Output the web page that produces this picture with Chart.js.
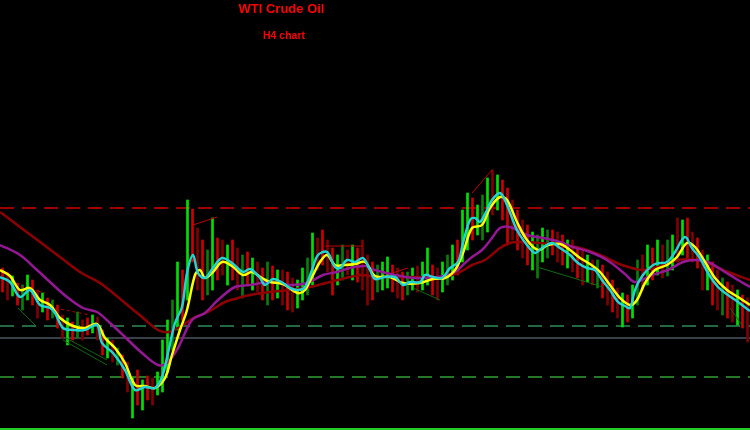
<!DOCTYPE html>
<html>
<head>
<meta charset="utf-8">
<script src="https://cdn.jsdelivr.net/npm/chart.js@4.4.1/dist/chart.umd.min.js"></script>
<style>
  html, body { margin: 0; padding: 0; background: #000; }
  canvas { display: block; }
</style>
</head>
<body>
<canvas id="chart" width="750" height="430"></canvas>
<script>
// candle highs / lows (price level, one per H4 bar)
const highs = [
  162,158,154,147,145,155,150,140,137,132,
  130,125,115,112,108,118,110,112,115,113,
  100,92,90,82,75,68,52,60,50,54,
  52,58,90,110,130,168,160,230,221,202,
  190,180,212,192,190,185,190,182,175,178,
  172,168,162,168,164,160,160,158,152,150,
  162,172,197,192,200,190,182,175,185,180,
  185,182,190,175,168,165,168,173,165,162,
  158,158,162,164,168,182,165,162,168,175,
  185,190,220,237,232,225,235,252,260,255,
  250,242,230,220,210,205,198,195,202,200,
  200,198,195,190,190,182,180,175,170,170,
  165,158,150,142,137,135,145,170,175,185,
  182,190,185,190,195,212,210,212,198,192,
  180,175,168,160,152,148,145,140,135,132
];
const lows = [
  138,130,134,125,120,130,125,112,118,110,
  112,102,92,85,90,92,90,95,97,90,
  75,72,68,65,52,38,12,25,20,30,
  25,35,38,58,80,100,110,130,168,140,
  130,135,140,150,155,145,150,140,132,145,
  140,138,130,125,130,132,125,120,118,122,
  130,135,145,160,165,158,135,145,150,155,
  150,148,140,125,130,138,140,142,138,132,
  130,135,140,138,140,145,135,130,138,145,
  150,155,168,180,190,195,190,198,215,220,
  210,185,190,180,172,165,160,152,168,172,
  175,168,165,162,158,152,145,148,145,142,
  132,125,118,112,103,108,112,125,140,145,
  150,155,152,154,160,168,175,170,168,162,
  140,140,125,120,115,112,108,105,102,88
];
// G = up bar, g = up (dim), R = down bar, r = down (dim)
const barDirs = (
  "RrGRgGRrGR" + "gRrGRgrRGr" + "RGrgRrGRGR" + "rGGGgGRGRr" + "RgGRrGRrgR" +
  "GrRgRGrRrG" + "GgGrRrRGgr" + "GRrrRgGGRr" + "RgGrGGRrGg" + "GRGGRGgGrG" +
  "RRrRrRGgGg" + "RrRGrRrGrg" + "RrRrGRGgrG" + "RGrgGrGRrR" + "rGRrgRrGRr"
).split("");

// moving averages [bar, level]
const fastMA = [
  [0,153],[2,148],[4,133],[6,140],[8,125],[10,122],[11,117],[12.6,102],[14.6,100],[17,100],
  [19.4,105],[20.4,87],[22.6,77],[25,60],[27,40],[29,43],[31,42],[32.4,53],[33.6,77],[35,107],
  [36.4,123],[37.4,157],[38.6,175],[39.6,157],[41,152],[42.6,162],[44.4,172],[46.4,167],[48.6,158],[50,161],
  [52,152],[53,145],[54.6,151],[56.6,147],[58,142],[59.6,140],[61,143],[62.4,160],[63.6,175],[65.4,178],
  [67,163],[68,162],[69.4,170],[71,168],[72.6,172],[74,160],[75,151],[77,153],[79,153],[80.6,145],
  [82,148],[84,148],[85,155],[86.6,153],[88.4,152],[90,162],[91.6,168],[92.6,187],[94,210],[95,212],
  [96,208],[97.4,220],[98.4,230],[100,237],[101.4,225],[103.4,200],[105.4,185],[107,177],[108.4,182],[110.4,187],
  [112,182],[114,175],[115.6,167],[117.4,162],[119,160],[120.4,150],[122,140],[123.6,128],[125,124],[126,122],
  [127,140],[128.6,155],[131,166],[133.4,168],[135,178],[137,193],[138.4,182],[140,172],[141.6,157],[143.6,143],
  [145.6,135],[147.6,128],[150,119]
];
const signalMA = [
  [0,160],[2,154],[4,140],[6,142],[8,130],[10,125],[12,112],[14.6,104],[17,102],[19.4,106],
  [21,92],[23,82],[25,67],[27,45],[29,44],[31,42],[33,52],[34.4,75],[36,100],[37.4,120],
  [39,155],[40,160],[41,152],[42.6,158],[44.4,168],[46.4,164],[48.6,155],[50.4,158],[52.4,152],[54,148],
  [56.6,146],[59.6,137],[61,140],[62.4,153],[64,168],[65.4,175],[67,165],[69,165],[71,166],[73,168],
  [75,154],[78,153],[80.6,147],[84,147],[86.6,151],[89,152],[91,160],[92.6,177],[94.4,202],[96.4,205],
  [98,222],[100,233],[101.4,230],[103.4,208],[105.4,190],[107.6,180],[109.6,185],[112,186],[114,180],[116,172],
  [118,166],[120,158],[122,145],[124,132],[126,125],[127.4,130],[129,147],[131,160],[133.4,165],[135.4,173],
  [137.4,187],[139,183],[141,168],[143,152],[145.4,140],[147.6,133],[150,125]
];
const mediumMA = [
  [0,185],[4,175],[7.4,160],[10,148],[13.4,133],[16.6,122],[19.4,118],[22,107],[25,93],[28.4,77],
  [31.6,65],[33.4,67],[35.6,82],[38.4,110],[41,117],[43.6,130],[47,143],[50,145],[54,148],[58,145],
  [61.4,147],[64.6,155],[67.4,158],[70,162],[73,164],[75,160],[79,155],[83,152],[87.6,153],[91,158],
  [93,167],[94.4,173],[96.4,180],[98.4,192],[100,202],[102,203],[105.4,195],[108.6,192],[112,188],[114.6,183],
  [118,178],[121.4,170],[125,156],[127,148],[130.4,155],[133.6,160],[136.6,168],[139,170],[141.6,168],[145,158],
  [147.6,150],[150,143]
];
const slowMA = [
  [0,218],[4,203],[8,188],[12,173],[16,158],[20,147],[22.6,137],[25,127],[28.4,113],[31.6,100],
  [33.6,98],[36,103],[39,113],[41.6,118],[45,128],[47.6,132],[50,135],[54,138],[58,140],[62,143],
  [66,148],[70,153],[72.6,155],[75,153],[79,153],[83,153],[88.4,153],[91.6,157],[94.4,165],[97,170],
  [100,182],[102,187],[104,188],[108,187],[112,185],[116,182],[120,175],[123.4,167],[125,164],[128.4,160],
  [131.6,163],[135.6,170],[139,170],[142.4,165],[145.6,158],[150,150]
];

// support / resistance levels
const resistanceLevel = 222;
const supportLevels = [104, 53];
const pivotLevel = 92;
const floorLevel = 1;

// hand drawn trend lines [bar1, level1, bar2, level2]
const upTrends = [
  [3.6,122,7,105],[12.6,90,21.4,65],[13.2,92,21.4,70],[82.6,142,88,130],
  [107.4,163,120.6,143],[146,122,148.4,105]
];
const downTrends = [
  [38.6,205,43.4,213],[65,184,72.6,184],[78.4,157,81.6,162],[94.4,237,98.4,260]
];
const dottedTrends = [
  [3,145,9,137],[11,122,18,115]
];

const palette = { G: "#00e000", g: "#0b7d0b", R: "#cc0000", r: "#800000" };

function hLine(level, color, dash, width, order) {
  return {
    type: "line",
    data: [{ x: 0, y: level }, { x: highs.length, y: level }],
    borderColor: color, borderWidth: width, borderDash: dash,
    pointRadius: 0, order: order
  };
}
function segs(list, color, dash, order) {
  return list.map(s => ({
    type: "line",
    data: [{ x: s[0], y: s[1] }, { x: s[2], y: s[3] }],
    borderColor: color, borderWidth: 1, borderDash: dash,
    pointRadius: 0, order: order
  }));
}
function maLine(pts, color, width, order) {
  return {
    type: "line",
    data: pts.map(p => ({ x: p[0], y: p[1] })),
    borderColor: color, borderWidth: width, tension: 0.35,
    pointRadius: 0, order: order
  };
}

const titlePlugin = {
  id: "titles",
  beforeDraw(chart) {
    const c = chart.ctx;
    c.save();
    c.fillStyle = "#000";
    c.fillRect(0, 0, chart.width, chart.height);
    c.restore();
  },
  afterDraw(chart) {
    const c = chart.ctx;
    c.save();
    c.fillStyle = "#ff0000";
    c.textAlign = "center";
    c.font = "bold 13px 'Liberation Sans', Arial, sans-serif";
    c.fillText("WTI Crude Oil", 281.5, 13);
    c.font = "bold 10.5px 'Liberation Sans', Arial, sans-serif";
    c.fillText("H4 chart", 284, 39);
    c.restore();
  }
};

new Chart(document.getElementById("chart"), {
  type: "bar",
  data: {
    datasets: [
      {
        type: "bar",
        data: highs.map((h, i) => ({ x: i + 0.5, y: [lows[i], h] })),
        backgroundColor: barDirs.map(d => palette[d]),
        barThickness: 2,
        grouped: false,
        order: 10
      },
      hLine(resistanceLevel, "#d00000", [14, 8], 1.5, 11),
      hLine(supportLevels[0], "#2e8b57", [14, 8], 1.5, 11),
      hLine(supportLevels[1], "#32a032", [14, 8], 1.5, 11),
      hLine(pivotLevel, "#6f7f8f", [], 1, 11),
      hLine(floorLevel, "#22cc22", [], 2, 11),
      ...segs(upTrends, "#0f6a0f", [], 5),
      ...segs(downTrends, "#c00000", [], 5),
      ...segs(dottedTrends, "#c00000", [3, 3], 5),
      maLine(slowMA, "#8e0000", 2.5, 4),
      maLine(mediumMA, "#941894", 2.5, 3),
      maLine(signalMA, "#ffff00", 2.5, 2),
      maLine(fastMA, "#22d3d3", 2.5, 1)
    ]
  },
  options: {
    responsive: false,
    animation: false,
    layout: { padding: 0 },
    plugins: { legend: { display: false }, tooltip: { enabled: false }, title: { display: false } },
    scales: {
      x: { type: "linear", min: 0, max: highs.length, offset: false, display: false },
      y: { type: "linear", min: 0, max: 430, display: false }
    }
  },
  plugins: [titlePlugin]
});
</script>
</body>
</html>
